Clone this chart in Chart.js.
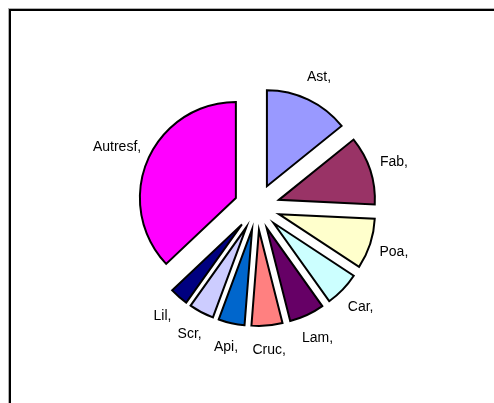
<!DOCTYPE html>
<html>
<head>
<meta charset="utf-8">
<script src="https://cdn.jsdelivr.net/npm/chart.js@4/dist/chart.umd.min.js"></script>
<style>
  html, body { margin: 0; padding: 0; background: #fff; }
  #wrap { position: relative; width: 494px; height: 403px; overflow: hidden; }
  #frame {
    position: absolute; left: 8px; top: 8px; width: 600px; height: 600px;
    border-left: 1px solid #b0b0b0; border-top: 1px solid #b0b0b0;
  }
  #frame::after {
    content: ''; position: absolute; left: 0; top: 0; right: 0; bottom: 0;
    border-left: 2px solid #000; border-top: 2px solid #000;
  }
  canvas { position: absolute; left: 0; top: 0; }
</style>
</head>
<body>
<div id="wrap">
  <div id="frame"></div>
  <canvas id="pie" width="494" height="403"></canvas>
</div>
<script>
// familles, dans l'ordre des secteurs (sens horaire depuis midi)
const labels = ['Ast', 'Fab', 'Poa', 'Car', 'Lam', 'Cruc', 'Api', 'Scr', 'Lil', 'Autresf'];
const values = [14.2, 11.6, 8.5, 5.9, 5.9, 5.2, 4.4, 4.2, 3.1, 37.1];
const colors = ['#9999FF', '#993366', '#FFFFCC', '#CCFFFF', '#660066',
                '#FF8080', '#0066CC', '#CCCCFF', '#000080', '#FF00FF'];

const FONT = '14px "Liberation Sans", Arial, sans-serif';
const EXPLODE = 23; // px, distance d'éclatement des secteurs

// secteur "éclaté" façon Excel : même rayon pour tous, déplacé sur sa bissectrice
class ExplodedArc extends Chart.ArcElement {
  draw(ctx) {
    const { x, y, startAngle, endAngle, outerRadius } = this.getProps(['x', 'y', 'startAngle', 'endAngle', 'outerRadius']);
    const o = this.options;
    const mid = (startAngle + endAngle) / 2;
    const d = o.offset || 0;
    ctx.save();
    ctx.translate(Math.cos(mid) * d, Math.sin(mid) * d);
    ctx.beginPath();
    ctx.moveTo(x, y);
    ctx.arc(x, y, outerRadius, startAngle, endAngle);
    ctx.closePath();
    ctx.fillStyle = o.backgroundColor;
    ctx.fill();
    ctx.lineWidth = o.borderWidth;
    ctx.strokeStyle = o.borderColor;
    ctx.lineJoin = 'miter';
    ctx.stroke();
    ctx.restore();
  }
}
ExplodedArc.id = 'explodedArc';

class ExplodedPie extends Chart.PieController {}
ExplodedPie.id = 'explodedPie';
ExplodedPie.defaults = { dataElementType: 'explodedArc' };

Chart.register(ExplodedArc, ExplodedPie);

// étiquettes "Nom," à l'extérieur de chaque secteur
const outsideLabels = {
  id: 'outsideLabels',
  afterDatasetsDraw(chart) {
    const ctx = chart.ctx;
    const meta = chart.getDatasetMeta(0);
    ctx.save();
    ctx.font = FONT;
    ctx.fillStyle = '#000';
    ctx.textAlign = 'center';
    ctx.textBaseline = 'middle';
    meta.data.forEach((arc, i) => {
      const { x, y, startAngle, endAngle, outerRadius } = arc.getProps(['x', 'y', 'startAngle', 'endAngle', 'outerRadius']);
      const mid = (startAngle + endAngle) / 2;
      const text = labels[i] + ',';
      const w = ctx.measureText(text).width;
      const r = outerRadius + EXPLODE + 25 + Math.max(0, w - 30) * Math.abs(Math.cos(mid)) / 2;
      ctx.fillText(text, x + Math.cos(mid) * r, y + Math.sin(mid) * r);
    });
    ctx.restore();
  }
};

new Chart(document.getElementById('pie'), {
  type: 'explodedPie',
  data: {
    labels,
    datasets: [{
      data: values,
      backgroundColor: colors,
      borderColor: '#000',
      borderWidth: 2,
      offset: EXPLODE
    }]
  },
  options: {
    responsive: false,
    animation: false,
    radius: 96,
    layout: { padding: { left: 20, top: 11 } },
    plugins: {
      legend: { display: false },
      tooltip: { enabled: false }
    }
  },
  plugins: [outsideLabels]
});
</script>
</body>
</html>
